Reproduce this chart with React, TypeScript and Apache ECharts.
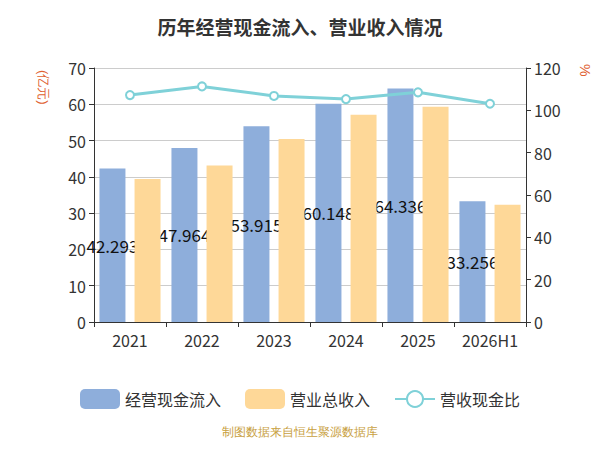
import React, { useEffect, useRef } from "react";
import * as echarts from "echarts";

const categories = ["2021", "2022", "2023", "2024", "2025", "2026H1"];
const cashIn = [42.293, 47.964, 53.915, 60.148, 64.336, 33.256];
const revenue = [39.4, 43.1, 50.4, 57.1, 59.3, 32.3];
const ratio = [107.2, 111.3, 106.8, 105.3, 108.5, 103.1];

export default function App() {
  const ref = useRef<HTMLDivElement>(null);
  useEffect(() => {
    const chart = echarts.init(ref.current!, null, { renderer: "svg" });
    chart.setOption({
      animation: false,
      textStyle: { fontFamily: "Noto Sans CJK SC" },
      title: { text: "历年经营现金流入、营业收入情况", left: "center", top: 4, textStyle: { fontSize: 19, fontWeight: "bold", color: "#333" } },
      grid: { left: 86, right: 66, top: 60, bottom: 120 },
      legend: {
        bottom: 28, itemWidth: 40, itemHeight: 20, itemGap: 24,
        textStyle: { fontSize: 16, color: "#333" },
        data: ["经营现金流入", "营业总收入", "营收现金比"],
      },
      graphic: [
        { type: "text", left: "center", bottom: 4, style: { text: "制图数据来自恒生聚源数据库", fill: "#c8a040", fontSize: 12 } },
        { type: "text", x: 42, y: 62, rotation: -Math.PI / 2, style: { text: "(亿元)", fill: "#e06030", fontSize: 13 } },
        { type: "text", x: 584, y: 56, rotation: -Math.PI / 2, style: { text: "%", fill: "#e06030", fontSize: 14 } },
      ],
      xAxis: {
        type: "category", data: categories,
        axisLine: { lineStyle: { color: "#333" } },
        axisTick: { show: true, lineStyle: { color: "#333" } },
        axisLabel: { fontSize: 16, color: "#333", margin: 10, interval: 0 },
      },
      yAxis: [
        {
          type: "value", min: 0, max: 70, interval: 10,
          axisLine: { show: true, lineStyle: { color: "#333" } }, axisTick: { show: true },
          axisLabel: { fontSize: 16, color: "#333" },
          splitLine: { lineStyle: { color: "#ccc" } },
        },
        {
          type: "value", min: 0, max: 120, interval: 20,
          axisLine: { show: true, lineStyle: { color: "#333" } }, axisTick: { show: true },
          axisLabel: { fontSize: 16, color: "#333" },
          splitLine: { show: false },
        },
      ],
      series: [
        {
          name: "经营现金流入", type: "bar", data: cashIn, z: 2, barWidth: 26, barGap: "35%",
          itemStyle: { color: "#8eaedb" },
          label: { show: true, position: "inside", color: "#111", fontSize: 17 },
        },
        {
          name: "营业总收入", type: "bar", data: revenue, z: 3, barWidth: 26,
          itemStyle: { color: "#fed898" },
        },
        {
          name: "营收现金比", type: "line", yAxisIndex: 1, data: ratio, z: 4,
          symbol: "circle", symbolSize: 8,
          lineStyle: { color: "#7fd1d8", width: 3 },
          itemStyle: { color: "#fff", borderColor: "#7fd1d8", borderWidth: 2 },
        },
      ],
    });
    return () => chart.dispose();
  }, []);
  return <div ref={ref} style={{ width: 584, height: 434 }} />;
}
